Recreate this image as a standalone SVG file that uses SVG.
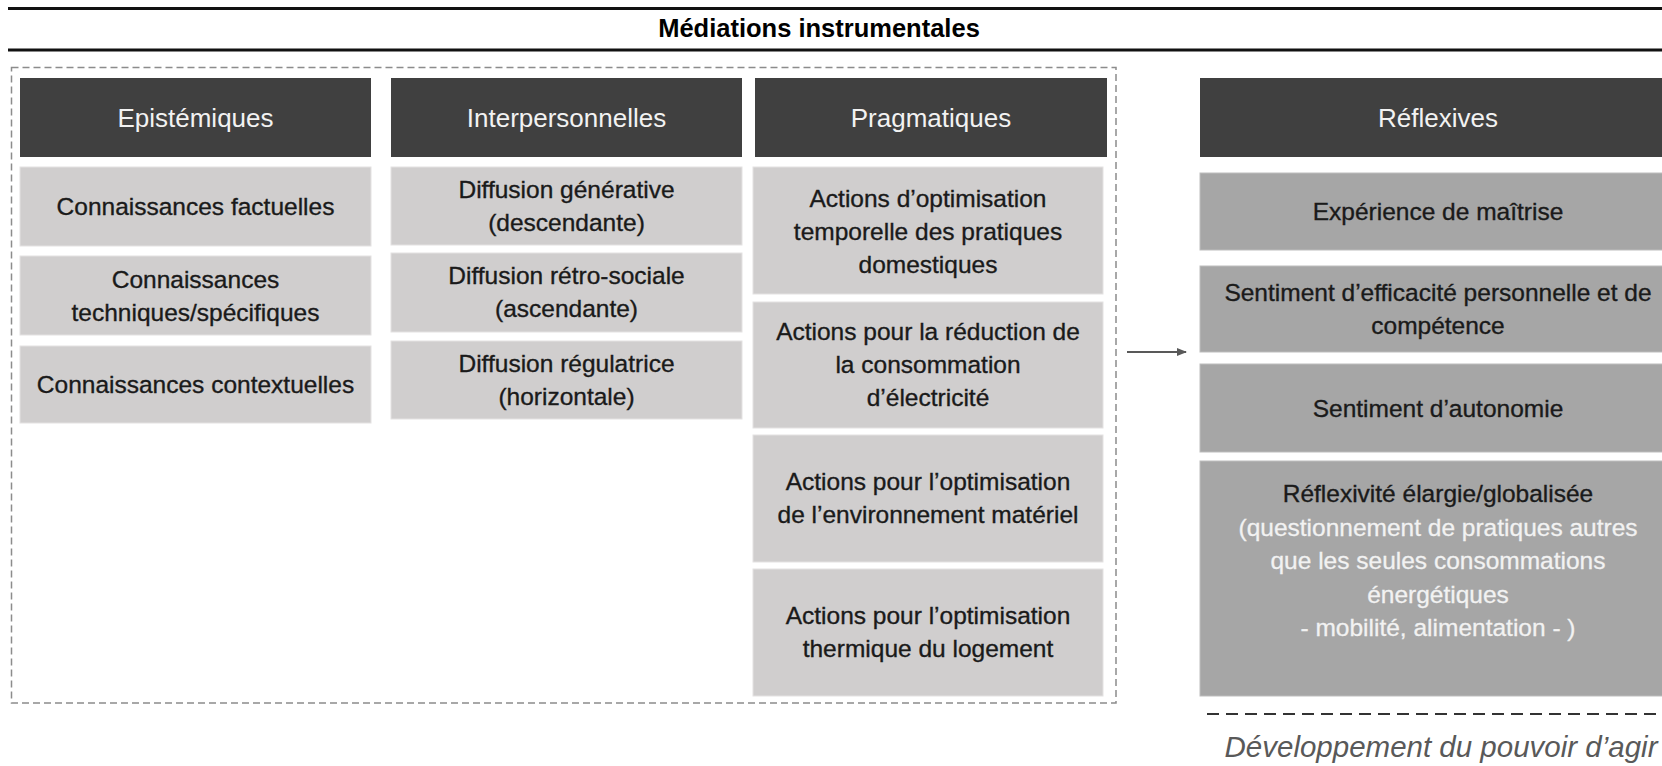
<svg xmlns="http://www.w3.org/2000/svg" width="1662" height="766" viewBox="0 0 1662 766">
<defs>
<style>
text{font-family:"Liberation Sans",Arial,sans-serif;text-anchor:middle}
.hd{fill:#404040}
.hdt{fill:#f2f2f2;font-size:26px}
.lb{fill:#d0cece;stroke:#e4e2e2;stroke-width:1}
.db{fill:#a6a6a6;stroke:#bdbdbd;stroke-width:1}
.bt{fill:#1a1a1a;font-size:24.5px;stroke:#1a1a1a;stroke-width:0.35}
.wt{fill:#f2f2f2;font-size:24.5px;stroke:#f2f2f2;stroke-width:0.3}
.title{font-size:25.5px;font-weight:bold;fill:#000}
.rule{stroke:#111;stroke-width:3}
</style>
<marker id="ah" viewBox="0 0 10 10" refX="9" refY="5" markerWidth="10" markerHeight="10" markerUnits="userSpaceOnUse" orient="auto">
<path d="M0,1 L10,5 L0,9 Z" fill="#595959"/>
</marker>
</defs>
<rect width="1662" height="766" fill="#fff"/>

<g id="title">
<line class="rule" x1="8" y1="8.5" x2="1662" y2="8.5"/>
<line class="rule" x1="8" y1="50" x2="1662" y2="50"/>
<text class="title" x="819" y="37">Médiations instrumentales</text>
</g>

<g id="instrumental-frame">
<rect x="11.5" y="67.5" width="1104.5" height="635.5" fill="none" stroke="#8c8c8c" stroke-width="1.5" stroke-dasharray="7 4"/>
</g>

<g id="epistemiques">
<rect class="hd" x="20" y="78" width="351" height="79"/>
<text class="hdt" x="195.5" y="127">Epistémiques</text>
</g>
<g id="e1">
<rect class="lb" x="20" y="167" width="351" height="79"/>
<text class="bt" x="195.5" y="215">Connaissances factuelles</text>
</g>
<g id="e2">
<rect class="lb" x="20" y="256" width="351" height="79"/>
<text class="bt" x="195.5" y="288">Connaissances</text>
<text class="bt" x="195.5" y="321">techniques/spécifiques</text>
</g>
<g id="e3">
<rect class="lb" x="20" y="346" width="351" height="77"/>
<text class="bt" x="195.5" y="393">Connaissances contextuelles</text>
</g>

<g id="interpersonnelles">
<rect class="hd" x="391" y="78" width="351" height="79"/>
<text class="hdt" x="566.5" y="127">Interpersonnelles</text>
</g>
<g id="i1">
<rect class="lb" x="391" y="167" width="351" height="78"/>
<text class="bt" x="566.5" y="198">Diffusion générative</text>
<text class="bt" x="566.5" y="231">(descendante)</text>
</g>
<g id="i2">
<rect class="lb" x="391" y="253" width="351" height="79"/>
<text class="bt" x="566.5" y="284">Diffusion rétro-sociale</text>
<text class="bt" x="566.5" y="317">(ascendante)</text>
</g>
<g id="i3">
<rect class="lb" x="391" y="341" width="351" height="78"/>
<text class="bt" x="566.5" y="372">Diffusion régulatrice</text>
<text class="bt" x="566.5" y="405">(horizontale)</text>
</g>

<g id="pragmatiques">
<rect class="hd" x="755" y="78" width="352" height="79"/>
<text class="hdt" x="931" y="127">Pragmatiques</text>
</g>
<g id="p1">
<rect class="lb" x="753" y="167" width="350" height="127"/>
<text class="bt" x="928" y="207">Actions d’optimisation</text>
<text class="bt" x="928" y="240">temporelle des pratiques</text>
<text class="bt" x="928" y="273">domestiques</text>
</g>
<g id="p2">
<rect class="lb" x="753" y="302" width="350" height="126"/>
<text class="bt" x="928" y="340">Actions pour la réduction de</text>
<text class="bt" x="928" y="373">la consommation</text>
<text class="bt" x="928" y="406">d’électricité</text>
</g>
<g id="p3">
<rect class="lb" x="753" y="435" width="350" height="127"/>
<text class="bt" x="928" y="490">Actions pour l’optimisation</text>
<text class="bt" x="928" y="523">de l’environnement matériel</text>
</g>
<g id="p4">
<rect class="lb" x="753" y="569" width="350" height="127"/>
<text class="bt" x="928" y="624">Actions pour l’optimisation</text>
<text class="bt" x="928" y="657">thermique du logement</text>
</g>

<g id="reflexives">
<rect class="hd" x="1200" y="78" width="476" height="79"/>
<text class="hdt" x="1438" y="127">Réflexives</text>
</g>
<g id="r1">
<rect class="db" x="1200" y="173" width="476" height="77"/>
<text class="bt" x="1438" y="220">Expérience de maîtrise</text>
</g>
<g id="r2">
<rect class="db" x="1200" y="266" width="476" height="86"/>
<text class="bt" x="1438" y="301">Sentiment d’efficacité personnelle et de</text>
<text class="bt" x="1438" y="334">compétence</text>
</g>
<g id="r3">
<rect class="db" x="1200" y="364" width="476" height="88"/>
<text class="bt" x="1438" y="416.5">Sentiment d’autonomie</text>
</g>
<g id="r4">
<rect class="db" x="1200" y="461" width="476" height="235"/>
<text class="bt" x="1438" y="502">Réflexivité élargie/globalisée</text>
<text class="wt" x="1438" y="535.5">(questionnement de pratiques autres</text>
<text class="wt" x="1438" y="569">que les seules consommations</text>
<text class="wt" x="1438" y="602.5">énergétiques</text>
<text class="wt" x="1438" y="636">- mobilité, alimentation - )</text>
</g>

<g id="pouvoir-agir">
<line x1="1207" y1="714" x2="1662" y2="714" stroke="#333" stroke-width="2" stroke-dasharray="12 7"/>
<text x="1441" y="757" font-size="29.5" font-style="italic" fill="#595959">Développement du pouvoir d’agir</text>
</g>

<g id="connectors">
<line x1="1127" y1="352" x2="1186" y2="352" stroke="#595959" stroke-width="2" marker-end="url(#ah)"/>
</g>
</svg>
